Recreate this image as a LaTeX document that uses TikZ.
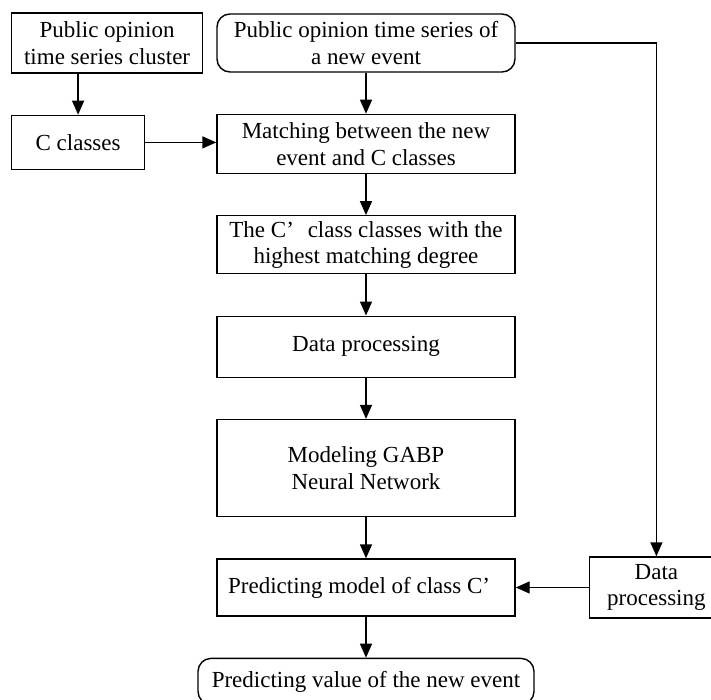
\documentclass[tikz,border=0pt]{standalone}
\usepackage{fontspec}
\setmainfont{Liberation Serif}
\usetikzlibrary{positioning,arrows.meta}

\begin{document}
\begin{tikzpicture}[x=1pt,y=-1pt,line width=1.4pt,
  font=\fontsize{23}{26.5}\selectfont,
  box/.style={draw,rectangle,align=center,inner sep=2pt,minimum width=298pt},
  rbox/.style={box,rounded corners=13pt},
  >={Triangle[length=14pt,width=12pt]}]

  \useasboundingbox (0,0) rectangle (711,700);

  \node[rbox,minimum height=58pt] (p0) at (366,43) {Public opinion time series of\\a new event};
  \node[box,minimum width=191pt,minimum height=60pt] (p1) [left=13pt of p0] {Public opinion\\time series cluster};
  \node[box,minimum height=59pt] (p2) [below=41pt of p0] {Matching between the new\\event and C classes};
  \node[box,minimum width=133pt,minimum height=54pt] (p3) [below=41pt of p1.south west,anchor=north west] {C classes};
  \node[box,minimum height=58pt] (p4) [below=41pt of p2] {The C’\hspace{0.6em}class classes with the\\highest matching degree};
  \node[box,minimum height=61pt] (p5) [below=41pt of p4] {Data processing};
  \node[box,minimum height=97pt] (p6) [below=41pt of p5] {Modeling GABP\\Neural Network};
  \node[box,minimum height=57pt] (p7) [below=41pt of p6] {Predicting model of class C’\kern0.6em};
  \node[rbox,minimum width=336pt,minimum height=46pt] (p8) [below=41pt of p7] {Predicting value of the new event};
  \node[box,minimum width=134pt,minimum height=61pt] (p9) [right=73pt of p7] {Data\\processing};

  \path[->] (p0) edge (p2);
  \path[->] (p2) edge (p4);
  \path[->] (p4) edge (p5);
  \path[->] (p5) edge (p6);
  \path[->] (p6) edge (p7);
  \path[->] (p7) edge (p8);
  \draw[->] (p3.north |- p1.south) -- (p3.north);
  \draw[->] (p3.east) -- (p3.east -| p2.west);
  \draw[->] (p0.east) -| (p9.north);
  \draw[->] (p9.west) -- (p9.west -| p7.east);

\end{tikzpicture}
\end{document}
